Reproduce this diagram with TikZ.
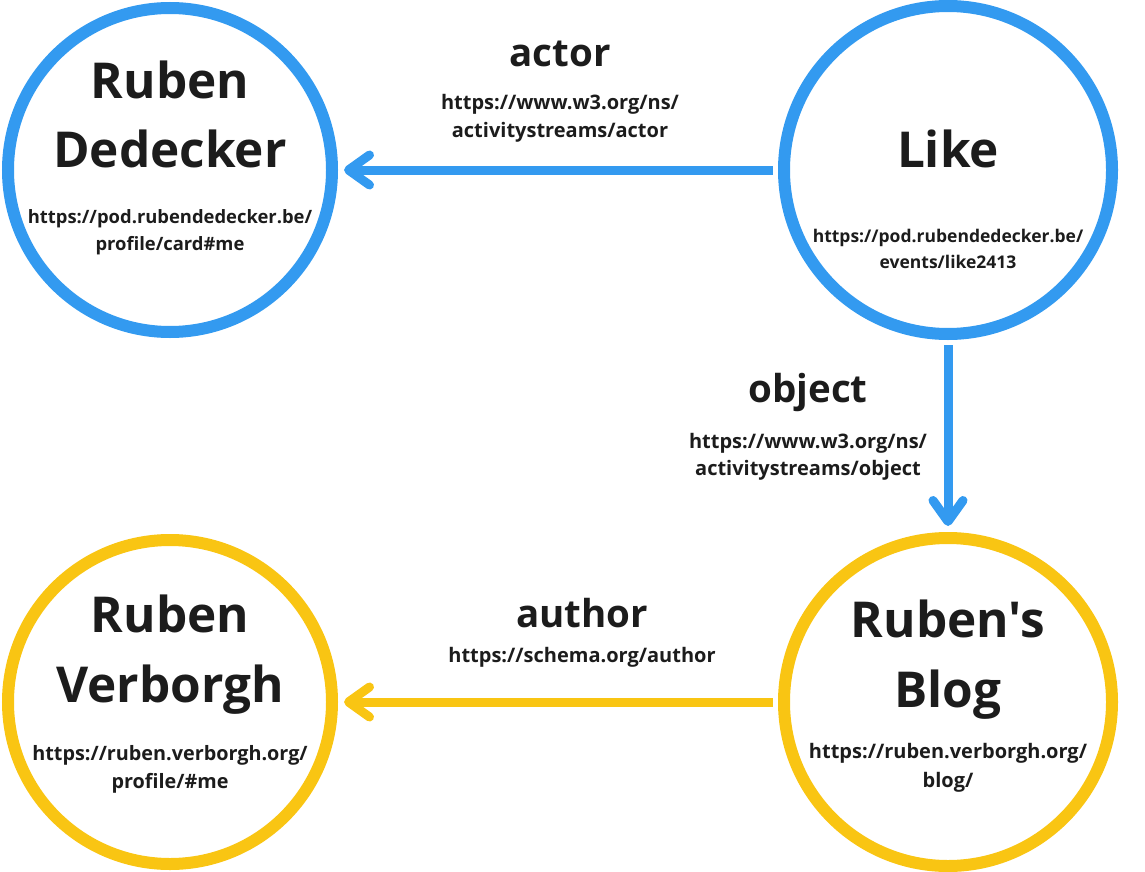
\documentclass[tikz,border=0pt]{standalone}
\usepackage{fontspec}
\setmainfont{Open Sans}[Ligatures=TeXOff]
\usetikzlibrary{arrows.meta}
\definecolor{nodeblue}{HTML}{339AF0}
\definecolor{nodeyellow}{HTML}{F9C513}
\definecolor{ink}{HTML}{1C1C1C}
\begin{document}
\begin{tikzpicture}[x=1pt,y=-1pt,
  ring/.style={circle,draw,line width=12pt,inner sep=0pt,minimum size=#1},
  ttl/.style={anchor=base,inner sep=0pt,text=ink,font=\fontsize{49.5}{68}\selectfont\bfseries},
  edgetext/.style={anchor=base,inner sep=0pt,text=ink,font=\fontsize{38.5}{48}\selectfont\bfseries},
  urltext/.style={anchor=base,inner sep=0pt,text=ink,font=\fontsize{#1}{27}\selectfont\bfseries},
  urltext/.default=18.4,
  edgeurl/.style={anchor=base,inner sep=0pt,text=ink,font=\fontsize{20}{28}\selectfont\bfseries},
  link/.style={line width=9pt,-{Straight Barb[length=21pt,width=30pt,round]}},
]
\useasboundingbox (0,0) rectangle (1145,872);
% circles
\node[ring=324pt,draw=nodeblue] (dedecker) at (170,170) {};
\node[ring=328pt,draw=nodeblue] (like) at (948,170) {};
\node[ring=324pt,draw=nodeyellow] (verborgh) at (170,702) {};
\node[ring=328pt,draw=nodeyellow] (blog) at (948,702) {};
% connectors
\draw[link,draw=nodeblue] ([xshift=-5pt]like.west) -- ([xshift=6pt]dedecker.east);
\draw[link,draw=nodeblue] ([yshift=-5pt]like.south) -- ([yshift=6pt]blog.north);
\draw[link,draw=nodeyellow] ([xshift=-5pt]blog.west) -- ([xshift=6pt]verborgh.east);
% Ruben Dedecker
\node[ttl] (dedT1) at (170,99) {Ruben};
\node[ttl] (dedT2) at (170,167) {Dedecker};
\node[urltext=18.4] (dedU1) at (170,223) {https://pod.rubendedecker.be/};
\node[urltext=18.4] (dedU2) at (170,250) {profile/card\#me};
% Like
\node[ttl] (likeT1) at (948,167) {Like};
\node[urltext=17.5] (likeU1) at (948,242) {https://pod.rubendedecker.be/};
\node[urltext=17.5] (likeU2) at (948,268) {events/like2413};
% actor
\node[edgetext] (actT) at (560,67) {actor};
\node[edgeurl] (actU1) at (560,110) {https://www.w3.org/ns/};
\node[edgeurl] (actU2) at (560,138) {activitystreams/actor};
% object
\node[edgetext] (objT) at (808,402) {object};
\node[edgeurl] (objU1) at (808,448) {https://www.w3.org/ns/};
\node[edgeurl] (objU2) at (808,475) {activitystreams/object};
% Ruben's Blog
\node[ttl] (blogT1) at (948,637) {Ruben's};
\node[ttl] (blogT2) at (948,707) {Blog};
\node[urltext=20] (blogU1) at (948,758) {https://ruben.verborgh.org/};
\node[urltext=20] (blogU2) at (948,787) {blog/};
% author
\node[edgetext] (autT) at (582,627) {author};
\node[edgeurl] (autU1) at (582,662) {https://schema.org/author};
% Ruben Verborgh
\node[ttl] (verT1) at (170,632) {Ruben};
\node[ttl] (verT2) at (170,702) {Verborgh};
\node[urltext=19.8] (verU1) at (170,760) {https://ruben.verborgh.org/};
\node[urltext=19.8] (verU2) at (170,788) {profile/\#me};
\end{tikzpicture}
\end{document}
